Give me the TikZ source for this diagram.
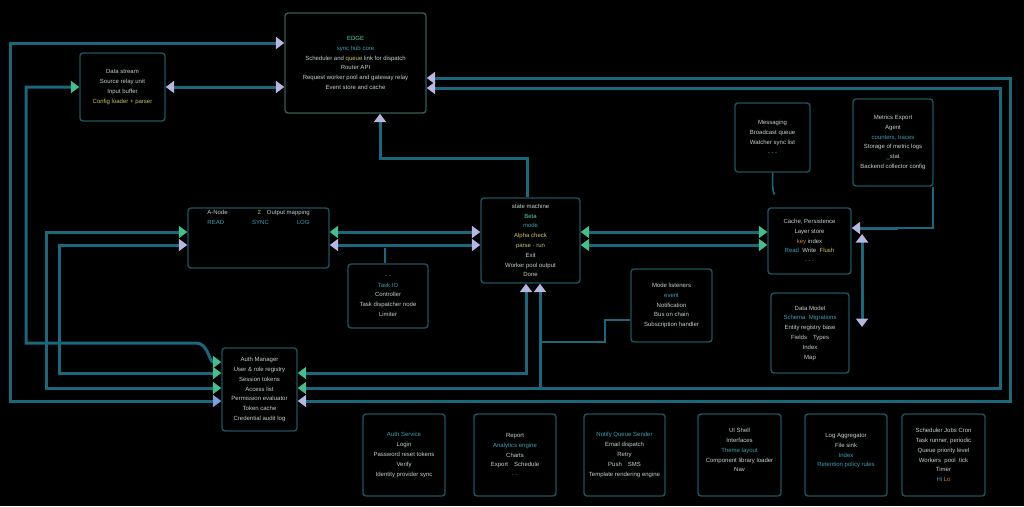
\documentclass[tikz,border=0pt]{standalone}
\usepackage{fontspec}
\setmainfont{Liberation Sans}
\usepackage{xcolor}
\usetikzlibrary{positioning}
\usetikzlibrary{arrows.meta, calc}
\definecolor{boxline}{RGB}{30,82,94}
\definecolor{boxtop}{RGB}{52,92,84}
\definecolor{linecol}{RGB}{26,104,124}
\definecolor{txtwhite}{RGB}{196,210,204}
\definecolor{txtteal}{RGB}{60,160,182}
\definecolor{txtgreen}{RGB}{90,210,160}
\definecolor{txtyel}{RGB}{200,200,90}
\definecolor{txtorange}{RGB}{215,120,60}
\definecolor{tipgrn}{RGB}{70,190,140}
\definecolor{tiplav}{RGB}{182,182,226}
\definecolor{tipblu}{RGB}{128,158,220}
\def\tgreen(#1){\textcolor{txtgreen}{#1}}
\def\tteal(#1){\textcolor{txtteal}{#1}}
\def\tyel(#1){\textcolor{txtyel}{#1}}
\def\torange(#1){\textcolor{txtorange}{#1}}
\tikzstyle{blk} = [draw=boxline, line width=1.4pt, rounded corners=3pt, fill=black, text=txtwhite, font=\fontsize{6}{9.8}\selectfont, align=center, inner sep=2pt]
\tikzstyle{txt} = [text=txtwhite, font=\fontsize{6}{9.8}\selectfont, align=center, inner sep=0pt]
\tikzstyle{link} = [draw=linecol, line width=3pt]
\tikzstyle{thinlink} = [draw=linecol, line width=1.2pt]
\tikzset{
  Gt/.tip={Triangle[length=8.5pt,width=12pt,color=tipgrn]},
  Lt/.tip={Triangle[length=8.5pt,width=12pt,color=tiplav]},
  Bt/.tip={Triangle[length=8.5pt,width=12pt,color=tipblu]}
}

\begin{document}
\begin{tikzpicture}[x=1pt,y=-1pt]
\fill[black] (0,0) rectangle (1024,506);
\useasboundingbox (0,0) rectangle (1024,506);

% boxes
\node[blk, draw=boxtop, minimum width=141pt, minimum height=100pt] (top) at (355.5,63) {\tgreen(EDGE)\\ \tteal(sync hub core)\\ Scheduler and \tyel(queue) link for dispatch\\ Router API\\ Request worker pool and gateway relay\\ Event store and cache};
\node[blk, minimum width=85pt, minimum height=68pt] (tl) at (122.5,87) {Data stream\\ Source relay unit\\ Input buffer\\ \tyel(Config loader + parser)};
\node[blk, minimum width=141pt, minimum height=60pt] (ml) at (258.5,238) {};
\node[txt, below=3pt of ml.north] (mltxt) {A-Node\hspace{30pt}\tyel(2)\hspace{6pt}Output mapping\\ \tteal(READ)\hspace{28pt}\tteal(SYNC)\hspace{28pt}\tteal(LOG)};
\node[blk, minimum width=99pt, minimum height=85pt] (ctr) at (530.5,240.5) {state machine\\ \tgreen(Beta)\\ \tteal(mode)\\ \tyel(Alpha check)\\ \tyel(parse · run)\\ Exit\\ Worker pool output\\ Done};
\node[blk, minimum width=80pt, minimum height=64pt] (sm) at (388,296) {\tteal(- -)\\ \tteal(Task IO)\\ Controller\\ Task dispatcher node\\ Limiter};
\node[blk, minimum width=81pt, minimum height=73pt] (mr) at (671.5,305.5) {Mode listeners\\ \tteal(event)\\ Notification\\ Bus on chain\\ Subscription handler};
\node[blk, minimum width=75pt, minimum height=69pt] (r1) at (772.5,137.5) {Messaging\\ Broadcast queue\\ Watcher sync list\\ \tteal(- - -)};
\node[blk, minimum width=80pt, minimum height=87pt] (r2) at (893,142.5) {Metrics Export\\ Agent\\ \tteal(counters, traces)\\ Storage of metric logs\\ \_stat\\ Backend collector config};
\node[blk, minimum width=83pt, minimum height=66pt] (r3) at (809.5,241) {Cache, Persistence\\ Layer store\\ \torange(key) index\\ \tteal(Read)\; Write\; \tyel(Flush)\\ \tteal(- - -)};
\node[blk, minimum width=78pt, minimum height=80pt] (r4) at (810,333) {Data Model\\ \tteal(Schema\; Migrations)\\ Entity registry base\\ Fields\quad Types\\ Index\\ Map};
\node[blk, minimum width=75pt, minimum height=83pt] (bl) at (259.5,389.5) {Auth Manager\\ User \& role registry\\ Session tokens\\ Access list\\ Permission evaluator\\ Token cache\\ Credential audit log};

% bottom row
\node[blk, minimum width=82pt, minimum height=82pt] (b1) at (404,455) {\tteal(Auth Service)\\ Login\\ Password reset tokens\\ Verify\\ Identity provider sync};
\node[blk, minimum width=82pt, minimum height=82pt] (b2) at (515,455) {Report\\ \tteal(Analytics engine)\\ Charts\\ Export\quad Schedule\\ · ·};
\node[blk, minimum width=81pt, minimum height=82pt] (b3) at (624.5,455) {\tteal(Notify Queue Sender)\\ Email dispatch\\ Retry\\ Push\quad SMS\\ Template rendering engine};
\node[blk, minimum width=83pt, minimum height=82pt] (b4) at (739.5,455) {UI Shell\\ Interfaces\\ \tteal(Theme layout)\\ Component library loader\\ Nav\\ \mbox{}};
\node[blk, minimum width=82pt, minimum height=82pt] (b5) at (846,455) {Log Aggregator\\ File sink\\ \tteal(Index)\\ \tteal(Retention policy rules)\\ \mbox{}};
\node[blk, minimum width=83pt, minimum height=82pt] (b6) at (943.5,455) {Scheduler Jobs Cron\\ Task runner, periodic\\ Queue priority level\\ Workers\; pool\; tick\\ Timer\\ \tteal(Hi) \torange(Lo)};

% left loops
\coordinate (lo1) at (10,43);
\coordinate (lo2) at (10,401);
\draw[link, Lt-Bt] (top.west |- lo1) -- (lo1) -- (lo2) -- (bl.west |- lo2);
\coordinate (la1) at (26,87);
\coordinate (la2) at (26,343);
\coordinate (la3) at (196,343);
\coordinate (la4) at (222,362);
\draw[link, Gt-Gt] (tl.west) -- (la1) -- (la2) -- (la3) to[out=0,in=180] (bl.west |- la4);
\coordinate (lb1) at (46,232);
\coordinate (lb2) at (46,388);
\draw[link, Gt-Gt] (ml.west |- lb1) -- (lb1) -- (lb2) -- (bl.west |- lb2);
\coordinate (lc1) at (59,245);
\coordinate (lc2) at (59,373);
\draw[link, Lt-Gt] (ml.west |- lc1) -- (lc1) -- (lc2) -- (bl.west |- lc2);
\draw[link, Lt-Lt] (tl.east) -- (top.west |- tl.east);

% middle row
\draw[link, Gt-Lt] (ml.east |- lb1) -- (ctr.west |- lb1);
\draw[link, Lt-Lt] (ml.east |- lc1) -- (ctr.west |- lc1);
\draw[link, Gt-Gt] (ctr.east |- lb1) -- (r3.west |- lb1);
\draw[link, Gt-Gt] (ctr.east |- lc1) -- (r3.west |- lc1);
\coordinate (st) at (385,248);
\draw[thinlink] (sm.north -| st) -- (st);
\coordinate (up1) at (527,158);
\coordinate (up2) at (380,158);
\draw[link, -Lt] (ctr.north -| up1) -- (up1) -- (up2) -- (top.south -| up2);

% bottom and right loops
\coordinate (ld1) at (526,373);
\draw[link, Gt-Lt] (bl.east |- ld1) -- (ld1) -- (ctr.south -| ld1);
\coordinate (rr1) at (1000,388);
\coordinate (rr2) at (1000,88);
\draw[link, Gt-Lt] (bl.east |- rr1) -- (rr1) -- (rr2) -- (top.east |- rr2);
\coordinate (ld2) at (540,388);
\draw[link, -Lt] (ld2) -- (ctr.south -| ld2);
\coordinate (rs1) at (1010,401);
\coordinate (rs2) at (1010,78);
\draw[link, Lt-Lt] (bl.east |- rs1) -- (rs1) -- (rs2) -- (top.east |- rs2);
\coordinate (mm1) at (605,320);
\coordinate (mm2) at (605,342);
\coordinate (mm3) at (540,342);
\draw[link, line width=2pt] (mr.west |- mm1) -- (mm1) -- (mm2) -- (mm3);

% right column
\coordinate (rq1) at (933,228);
\coordinate (rq0) at (898,228);
\draw[thinlink] (r2.south -| rq1) -- (rq1) -- (rq0);
\draw[link, -Lt] (rq0) -- (r3.east |- rq0);
\coordinate (vv1) at (862,234);
\coordinate (vv2) at (862,327);
\draw[link, Lt-Lt] (vv1) -- (vv2);
\coordinate (hk) at (775,193);
\draw[thinlink, line width=1.5pt] (r1.south) -- ++(0,8) to[out=270,in=250] (hk);
\end{tikzpicture}
\end{document}
